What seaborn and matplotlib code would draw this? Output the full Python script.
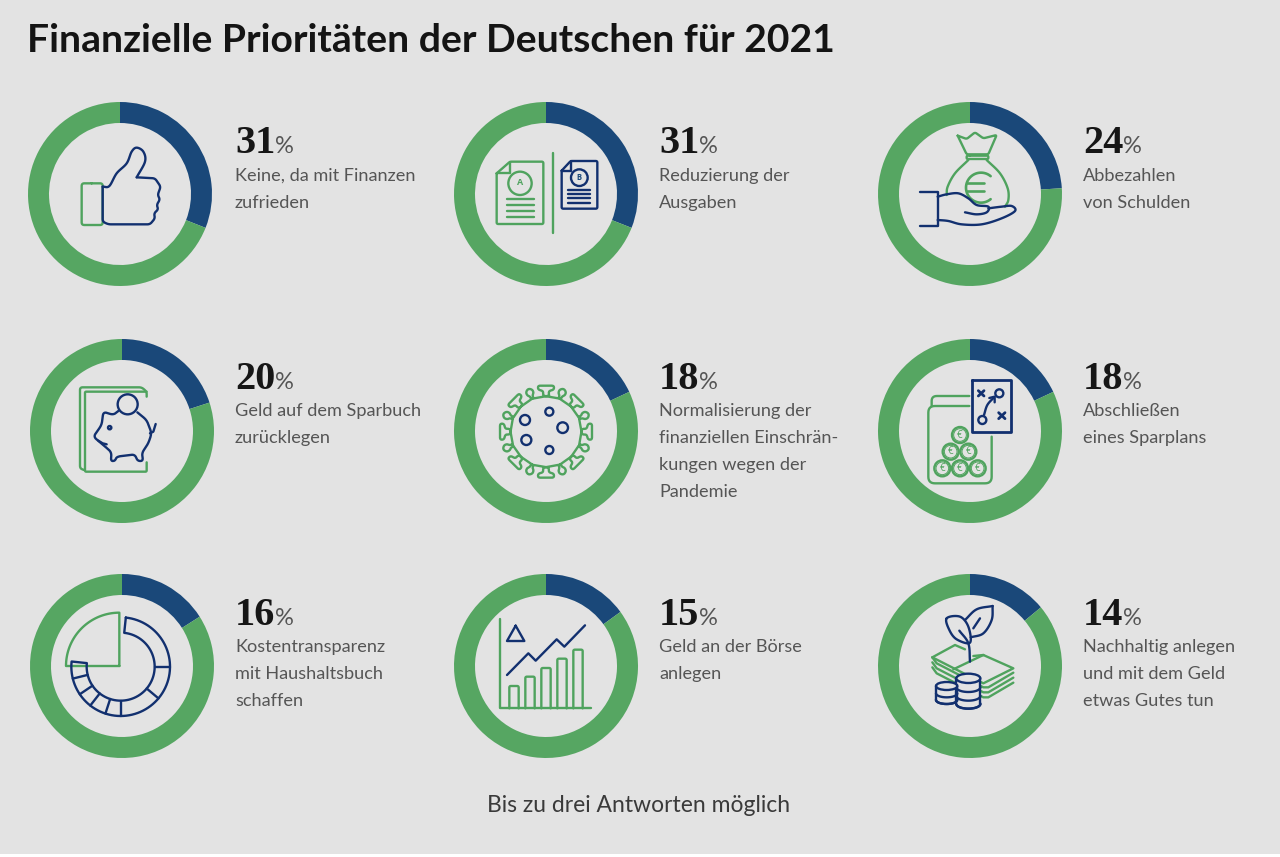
import numpy as np
import matplotlib
matplotlib.use("Agg")
import matplotlib.pyplot as plt
from matplotlib.patches import Circle, Rectangle, Ellipse
import seaborn as sns

values = [31, 31, 24, 20, 18, 18, 16, 15, 14]
categories = [
    ["Keine, da mit Finanzen", "zufrieden"],
    ["Reduzierung der", "Ausgaben"],
    ["Abbezahlen", "von Schulden"],
    ["Geld auf dem Sparbuch", "zurücklegen"],
    ["Normalisierung der", "finanziellen Einschrän-", "kungen wegen der", "Pandemie"],
    ["Abschließen", "eines Sparplans"],
    ["Kostentransparenz", "mit Haushaltsbuch", "schaffen"],
    ["Geld an der Börse", "anlegen"],
    ["Nachhaltig anlegen", "und mit dem Geld", "etwas Gutes tun"],
]
title = "Finanzielle Prioritäten der Deutschen für 2021"
footnote = "Bis zu drei Antworten möglich"

BG = "#e3e3e3"
GREEN = "#56a662"
BLUE = "#1a4879"
IG = "#4fa35e"
IB = "#12306f"
TXT = "#555555"

sns.set_theme(style="white", rc={"figure.facecolor": BG, "axes.facecolor": "none", "savefig.facecolor": BG})
W, H = 1280, 857
fig = plt.figure(figsize=(W / 100, H / 100), dpi=100)

centres = [(120, 194), (546, 194), (970, 194),
           (122, 431), (546, 431), (970, 431),
           (122, 666), (546, 666), (970, 666)]
text_x = [235, 659, 1083]
num_base = [153, 389, 625]
line_base = [180.5, 416, 652]
R = 92

for (cx, cy), v in zip(centres, values):
    a = fig.add_axes([(cx - R) / W, 1 - (cy + R) / H, 2 * R / W, 2 * R / H])
    a.pie([v, 100 - v], colors=[BLUE, GREEN], startangle=90, counterclock=False, radius=1,
          wedgeprops={"width": 21 / R, "linewidth": 0})
    a.set_xlim(-1, 1)
    a.set_ylim(-1, 1)
    a.set_axis_off()

ov = fig.add_axes([0, 0, 1, 1])
ov.set_xlim(0, W)
ov.set_ylim(H, 0)
ov.set_axis_off()
ov.add_patch(Rectangle((0, 854), W, 3, fc="white", ec="none"))


def spline(pts, n=12, closed=False):
    p = np.asarray(pts, float)
    if closed:
        p = np.vstack([p[-1], p, p[0], p[1]])
    else:
        p = np.vstack([2 * p[0] - p[1], p, 2 * p[-1] - p[-2]])
    out = []
    t = np.linspace(0, 1, n, endpoint=False)[:, None]
    for i in range(1, len(p) - 2):
        a, b, c, d = p[i - 1], p[i], p[i + 1], p[i + 2]
        out.append(0.5 * (2 * b + (c - a) * t + (2 * a - 5 * b + 4 * c - d) * t ** 2 + (3 * b - a - 3 * c + d) * t ** 3))
    out = np.vstack(out + [p[-2][None]])
    return out


def rounded(pts, r=10):
    """Polyline with its inner corners replaced by small quadratic curves."""
    p = np.asarray(pts, float)
    out = [p[0]]
    for k in range(1, len(p) - 1):
        a, b, c = p[k - 1], p[k], p[k + 1]
        ra = min(r, np.linalg.norm(a - b) / 2)
        rc = min(r, np.linalg.norm(c - b) / 2)
        s = b + (a - b) / np.linalg.norm(a - b) * ra
        e = b + (c - b) / np.linalg.norm(c - b) * rc
        t = np.linspace(0, 1, 8)[:, None]
        out.extend((1 - t) ** 2 * s + 2 * t * (1 - t) * b + t ** 2 * e)
    out.append(p[-1])
    return np.vstack(out)


class Icon:
    def __init__(self, x0, y0, s=3.0):
        self.x0, self.y0, self.s = x0, y0, s

    def xy(self, pts):
        p = np.asarray(pts, float)
        return self.x0 + p[:, 0] / self.s, self.y0 + p[:, 1] / self.s

    def line(self, pts, c=IG, lw=1.7, smooth=False, closed=False, r=0):
        if smooth:
            pts = spline(pts, closed=closed)
        elif closed:
            pts = list(pts) + [pts[0]]
        if r:
            pts = rounded(pts, r)
        x, y = self.xy(pts)
        ov.plot(x, y, color=c, lw=lw, solid_capstyle="round", solid_joinstyle="round")

    def circle(self, cx, cy, r, c=IG, lw=1.7):
        x, y = self.xy([(cx, cy)])
        ov.add_patch(Circle((x[0], y[0]), r / self.s, fill=False, ec=c, lw=lw))

    def arc(self, cx, cy, r, a0, a1, c=IG, lw=1.7):
        t = np.radians(np.linspace(a0, a1, 60))
        self.line(np.c_[cx + r * np.cos(t), cy - r * np.sin(t)], c, lw)

    def text(self, x, y, s, c, size, weight="normal"):
        px, py = self.xy([(x, y)])
        ov.text(px[0], py[0], s, color=c, fontsize=size, ha="center", va="center", fontweight=weight,
                family=["Open Sans", "DejaVu Sans"])


# 1 thumb
i = Icon(20, 90)
i.line([(215, 280), (248, 280), (248, 405), (185, 405), (185, 280), (215, 280)], IG, r=8)
i.line([(248, 290), (268, 288), (290, 250), (320, 220), (335, 185), (350, 173), (370, 185), (375, 215), (350, 262)], IB, smooth=True)
i.line([(350, 262), (405, 265), (422, 290), (413, 315), (420, 328), (410, 345), (415, 358), (402, 370), (405, 385), (390, 403), (265, 403), (248, 395), (248, 290)], IB, r=8)

# 2 documents
i = Icon(480, 130)
i.line([(50, 130), (90, 95), (190, 95), (190, 282), (50, 282), (50, 130)], IG, r=5)
i.line([(90, 95), (90, 130), (50, 130)], IG)
i.circle(120, 160, 35, IG)
i.text(120, 158, "A", IG, 6.5, "bold")
for y in (208, 226, 243, 260):
    i.line([(80, y), (162, y)], IG)
i.line([(219, 68), (219, 308)], IG)
i.line([(245, 122), (272, 93), (352, 93), (352, 236), (245, 236), (245, 122)], IB, r=5)
i.line([(272, 93), (272, 122), (245, 122)], IB)
i.circle(298, 143, 25, IB)
i.text(298, 142, "B", BLUE, 5.5, "bold")
for y in (180, 192, 205, 218):
    i.line([(265, y), (330, y)], IB)

# 3 money bag
i = Icon(905, 125)
i.line([(158, 32), (185, 42), (210, 22), (235, 40), (275, 30), (250, 88), (185, 88), (158, 32)], IG, r=6)
i.line([(195, 92), (250, 92), (250, 102), (185, 102), (185, 92), (195, 92)], IG, r=4)
i.line([(190, 105), (150, 145), (128, 185), (125, 210)], IG, smooth=True)
i.line([(245, 105), (285, 145), (308, 190), (310, 225), (300, 245)], IG, smooth=True)
i.arc(228, 188, 45, 50, 310, IG, 1.9)
i.line([(185, 175), (238, 175)], IG, 1.9)
i.line([(185, 197), (238, 197)], IG, 1.9)
i.line([(45, 202), (98, 202), (98, 302), (45, 302)], IB)
i.line([(98, 215), (125, 208), (160, 205), (190, 220), (215, 240), (250, 245), (245, 262), (215, 268), (180, 262)], IB, smooth=True)
i.line([(98, 285), (130, 288), (170, 298), (230, 298), (290, 280), (330, 258), (320, 243), (290, 245), (250, 250)], IB, smooth=True)

# 4 piggy
i = Icon(60, 375)
i.line([(72, 285), (60, 280), (60, 37), (245, 37), (260, 50), (260, 65)], IG, r=8)
i.line([(260, 50), (75, 50), (75, 290), (260, 290), (260, 262)], IG, r=4)
i.line([(175, 108), (160, 120), (130, 110), (125, 150), (100, 185), (130, 210), (155, 232), (152, 258), (165, 258), (170, 245), (225, 238), (232, 258), (250, 258), (245, 235), (265, 205), (275, 175), (260, 135), (232, 112)], IB, r=12)
i.line([(270, 175), (280, 170), (287, 147)], IB)
i.circle(203, 88, 30, IB)
i.circle(149, 158, 5, IB)
i.line([(115, 197), (128, 205), (140, 208)], IB)

# 5 virus
i = Icon(450, 330)
c0 = np.array([288.0, 305.0])
outline = []
for k in range(16):
    ang = np.pi / 2 - k * np.pi / 8
    u = np.array([np.cos(ang), -np.sin(ang)])
    v_ = np.array([u[1], -u[0]])
    if k % 2 == 0:
        outline += [c0 + 108 * u - 9 * v_, c0 + 122 * u - 8 * v_, c0 + 126 * u - 24 * v_, c0 + 138 * u - 24 * v_,
                    c0 + 138 * u + 24 * v_, c0 + 126 * u + 24 * v_, c0 + 122 * u + 8 * v_, c0 + 108 * u + 9 * v_]
    else:
        outline += [c0 + 108 * u - 4 * v_, c0 + 116 * u - 4 * v_, c0 + 121 * u - 10 * v_, c0 + 132 * u - 11 * v_,
                    c0 + 140 * u, c0 + 132 * u + 11 * v_, c0 + 121 * u + 10 * v_, c0 + 116 * u + 4 * v_, c0 + 108 * u + 4 * v_]
i.line(np.vstack(outline + [outline[0]]), IG, r=7)
for x, y, r in [(225, 270, 15), (298, 245, 12), (338, 293, 16), (229, 330, 15), (298, 360, 12)]:
    i.circle(x, y, r, IB)

# 6 jar
i = Icon(910, 370)
i.line([(186, 31), (302, 31), (302, 187), (186, 187)], IB, 2.0, closed=True)
i.line([(205, 62), (222, 78)], IB, 2.0)
i.line([(222, 62), (205, 78)], IB, 2.0)
i.line([(266, 128), (285, 146)], IB, 2.0)
i.line([(285, 128), (266, 146)], IB, 2.0)
i.circle(268, 70, 12, IB)
i.circle(217, 150, 12, IB)
i.line([(222, 135), (232, 105), (252, 82)], IB, smooth=True)
i.line([(238, 84), (254, 80), (254, 97)], IB)
i.line([(178, 78), (65, 78), (65, 108)], IG, r=16)
i.line([(178, 108), (55, 108), (55, 340), (245, 340), (245, 200)], IG, r=20)
for x, y in [(150, 195), (122, 245), (175, 245), (97, 295), (150, 295), (203, 295)]:
    i.circle(x, y, 24, IG)
    i.circle(x, y, 19, IG, 0.7)
    i.text(x, y, "€", IG, 7)

# 7 budget pie
i = Icon(20, 570)
t = np.linspace(90, 180, 40)
i.line([(298, 288), (298, 128)] + [(298 + 160 * np.cos(np.radians(a)), 288 - 160 * np.sin(np.radians(a))) for a in t] + [(298, 288)], IG)
ox, oy, ro, ri = 302, 290, 148, 102
to = np.radians(np.linspace(84, -186, 80))
outer = np.c_[ox + ro * np.cos(to), oy - ro * np.sin(to)]
inner = np.c_[ox + ri * np.cos(to), oy - ri * np.sin(to)]
i.line(np.vstack([outer, inner[::-1]]), IB, closed=True)
for a in (0, -40, -90, -108, -128, -146, -166):
    r = np.radians(a)
    i.line([(ox + ri * np.cos(r), oy - ri * np.sin(r)), (ox + ro * np.cos(r), oy - ro * np.sin(r))], IB)

# 8 line and bars
i = Icon(485, 610)
i.line([(46, 28), (46, 295), (318, 295)], IG)
for x, top in zip((73, 121, 169, 217, 265), (228, 200, 174, 146, 119)):
    i.line([(x, 295), (x, top), (x + 28, top), (x + 28, 295)], IG, r=5)
i.line([(66, 195), (130, 130), (152, 152), (215, 88), (238, 110), (300, 46)], IB)
i.line([(92, 47), (66, 93), (118, 93)], IB, closed=True)

# 9 plant over notes and coins
i = Icon(920, 600)
for off in (30, 15, 0):
    i.line([(37, 172 + off), (50, 190 + off), (190, 262 + off), (205, 262 + off), (280, 218 + off)], IG)
i.line([(37, 172), (105, 135), (135, 148)], IG)
i.line([(160, 168), (190, 165)], IG)
i.line([(37, 172), (190, 250), (280, 205), (190, 165)], IG)
i.line([(100, 208), (190, 165)], IG)
i.line([(80, 55), (120, 50), (145, 80), (150, 128), (110, 118), (88, 90)], IB, smooth=True, closed=True)
i.line([(218, 18), (170, 28), (135, 60)], IB, smooth=True)
i.line([(152, 112), (190, 100), (215, 60), (218, 18)], IB, smooth=True)
i.line([(118, 92), (145, 130), (150, 185)], IB, smooth=True)
i.line([(160, 85), (180, 55)], IB)


def cyl(cx_, top, rx, ry, bottom, steps):
    xx, yy = i.xy([(cx_, top)])
    bx, by = i.xy([(cx_ - rx, top), (cx_ - rx, bottom), (cx_ + rx, bottom), (cx_ + rx, top)])
    ov.add_patch(Rectangle((bx[0], by[0]), 2 * rx / 3, (bottom - top) / 3, fc=BG, ec="none", zorder=4))
    ov.plot([bx[0], bx[1]], [by[0], by[1]], color=IB, lw=1.7, zorder=5)
    ov.plot([bx[2], bx[3]], [by[2], by[3]], color=IB, lw=1.7, zorder=5)
    ov.add_patch(Ellipse((xx[0], yy[0] + (bottom - top) / 3), 2 * rx / 3, 2 * ry / 3, fc=BG, ec=IB, lw=1.7, zorder=3))
    tt = np.linspace(0, np.pi, 30)
    for s_ in steps:
        ax_, ay_ = i.xy(np.c_[cx_ + rx * np.cos(tt), s_ + ry * np.sin(tt)])
        ov.plot(ax_, ay_, color=IB, lw=1.7, zorder=6)
    ov.add_patch(Ellipse((xx[0], yy[0]), 2 * rx / 3, 2 * ry / 3, fc=BG, ec=IB, lw=1.7, zorder=7))


cyl(80, 258, 32, 12, 300, [280, 300])
cyl(145, 235, 36, 14, 312, [262, 288, 312])

FONT = ["Lato", "Open Sans", "DejaVu Sans"]
ov.text(27, 52, title, fontsize=28.2, fontweight="bold", color="#141414", ha="left", va="baseline",
        family=["Lato", "DejaVu Sans"])

for k, (v, lines) in enumerate(zip(values, categories)):
    row, col = k // 3, k % 3
    x = text_x[col]
    n = ov.text(x, num_base[row], str(v), fontsize=29, fontweight="bold", color="#161616", ha="left",
                va="baseline", family=["Liberation Serif", "DejaVu Serif"])
    fig.canvas.draw()
    bb = n.get_window_extent()
    ov.text(bb.x1, num_base[row], "%", fontsize=17, color=TXT, ha="left", va="baseline", family=FONT)
    for j, ln in enumerate(lines):
        ov.text(x, line_base[row] + j * 27, ln, fontsize=13.1, color=TXT, ha="left", va="baseline", family=FONT)

ov.text(639, 812, footnote, fontsize=16.5, color="#3a3a3a", ha="center", va="baseline", family=FONT)

fig.savefig("out.png", dpi=100, facecolor=BG)
